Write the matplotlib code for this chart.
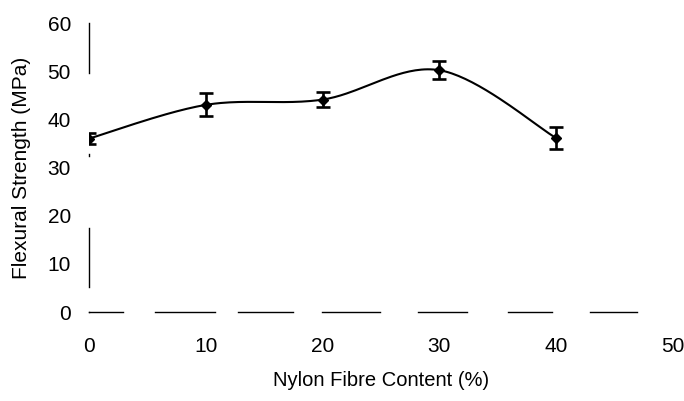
import numpy as np
import matplotlib
matplotlib.use("Agg")
import matplotlib.pyplot as plt

plt.rcParams["font.family"] = ["Liberation Sans", "DejaVu Sans"]
plt.rcParams["lines.scale_dashes"] = False

# Flexural strength vs nylon fibre content
fibre_content = [0, 10, 20, 30, 40]
strength = [36.0, 43.0, 44.1, 50.2, 36.1]
strength_err = [1.2, 2.4, 1.6, 1.9, 2.3]

x_ticks = [0, 10, 20, 30, 40, 50]
y_ticks = [0, 10, 20, 30, 40, 50, 60]


def smooth_curve(xs, ys, n=40):
    """Cubic Bezier smoothing through every point (spreadsheet-style)."""
    p = np.column_stack([xs, ys]).astype(float)
    ext = np.vstack([p[0], p, p[-1]])
    out = []
    t = np.linspace(0, 1, n)[:, None]
    for i in range(len(p) - 1):
        p0, p3 = ext[i + 1], ext[i + 2]
        c1 = p0 + (ext[i + 2] - ext[i]) / 6.0
        c2 = p3 - (ext[i + 3] - ext[i + 1]) / 6.0
        seg = ((1 - t) ** 3) * p0 + 3 * ((1 - t) ** 2) * t * c1 \
            + 3 * (1 - t) * t ** 2 * c2 + t ** 3 * p3
        out.append(seg if i == 0 else seg[1:])
    out = np.vstack(out)
    return out[:, 0], out[:, 1]


fig = plt.figure(figsize=(6.84, 4.01), dpi=100)
ax = fig.add_axes([89 / 684, 89 / 401, 584 / 684, 289 / 401])

sx, sy = smooth_curve(fibre_content, strength)
ax.plot(sx, sy, color="black", lw=1.5, zorder=2)
ax.errorbar(fibre_content, strength, yerr=strength_err, fmt="D", color="black",
            ms=5.5, ecolor="black", elinewidth=1.9, capsize=5, capthick=1.9,
            zorder=3)

ax.set_xlim(0, 50)
ax.set_ylim(0, 60)
ax.set_xticks(x_ticks)
ax.set_yticks(y_ticks)
ax.tick_params(axis="both", length=0, labelsize=15)
ax.tick_params(axis="x", pad=18)
ax.tick_params(axis="y", pad=13)

for side in ("top", "right"):
    ax.spines[side].set_visible(False)

px = 0.72  # pixel -> point at 100 dpi
ax.spines["left"].set_linewidth(1.0)
ax.spines["left"].set_linestyle(
    (265 * px, [d * px for d in (59, 72, 2, 81, 51, 25)]))
ax.spines["bottom"].set_linewidth(1.0)
ax.spines["bottom"].set_linestyle(
    (0, [d * px for d in (34, 32, 60, 23, 55, 29, 58, 38, 49, 41, 44, 38, 47, 36)]))

ax.set_xlabel("Nylon Fibre Content (%)", fontsize=14.5)
ax.set_ylabel("Flexural Strength (MPa)", fontsize=15)
ax.xaxis.label.set_va("center")
ax.yaxis.label.set_va("center")
ax.xaxis.set_label_coords(0.5, -(381 - 312) / 289)
ax.yaxis.set_label_coords((22 - 89) / 584, 0.5)

fig.savefig("out.png", dpi=100)
